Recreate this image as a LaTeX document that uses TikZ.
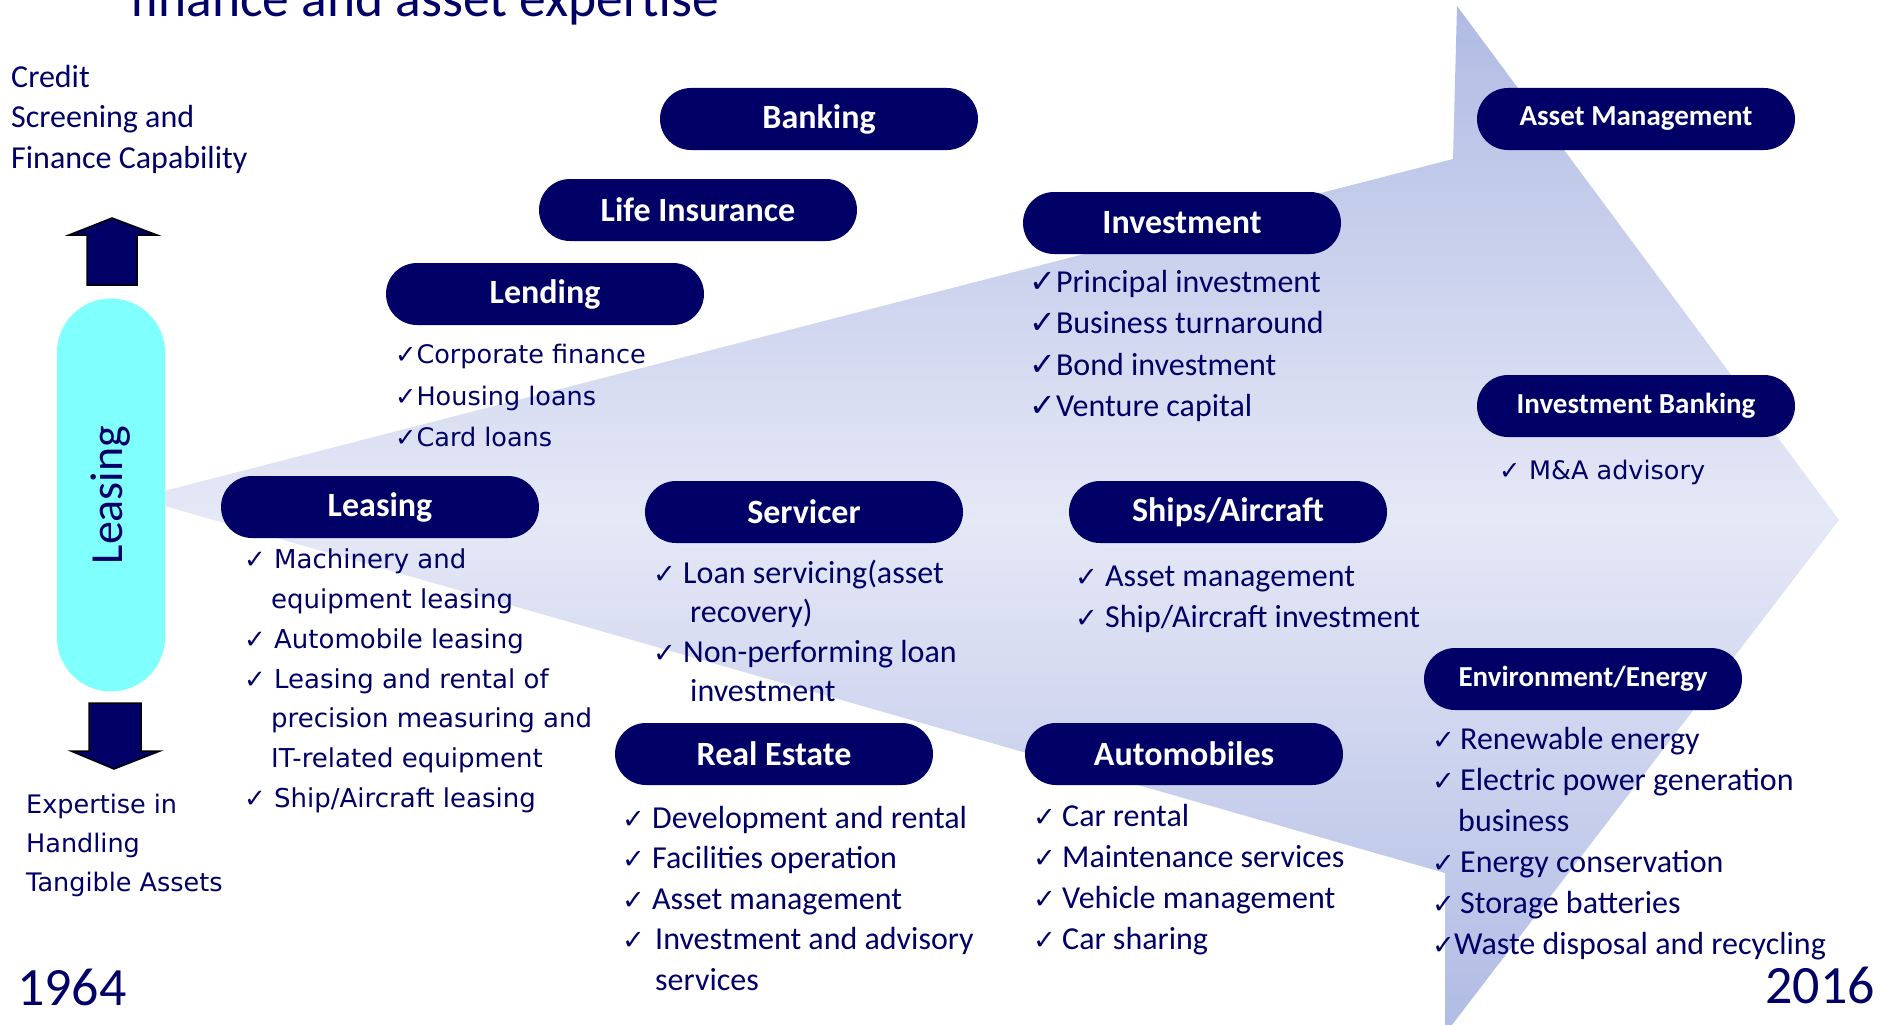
\documentclass[tikz,border=0pt]{standalone}
\usepackage{fontspec}
\setmainfont{Carlito}
\newfontfamily\widefont{DejaVu Sans}
\newfontfamily\tickfont{DejaVu Sans}

\definecolor{navy}{RGB}{0,0,102}
\definecolor{pillcyan}{RGB}{128,255,255}
\definecolor{arrowdark}{RGB}{176,187,228}
\definecolor{arrowlight}{RGB}{229,232,246}

% check marks: with a fixed gap (narrow and wide lists) and one right on the text
\newcommand{\tick}[1]{\scalebox{#1}{\tickfont\bfseries\char"2713}}
\newcommand{\tk}[1][30pt]{\makebox[#1][l]{\tick{0.85}}}
\newcommand{\tkw}[1][30pt]{\makebox[#1][l]{\tick{1}}}
\newcommand{\tkc}{\tick{1}}
\newcommand{\wrapin}[1]{\hspace*{#1}}

\begin{document}
\begin{tikzpicture}[x=1pt, y=-1pt,
    pill/.style={fill=navy, text=white, rounded corners=31pt,
      minimum width=318pt, minimum height=62pt, inner sep=0pt,
      font=\bfseries\fontsize{34}{34}\selectfont},
    smallpill/.style={pill, font=\bfseries\fontsize{29}{29}\selectfont},
    items/.style={anchor=north west, align=left, inner sep=0pt, text=navy,
      font=\fontsize{32}{41}\selectfont},
    wideitems/.style={items, font=\widefont\fontsize{25}{41}\selectfont}]
  \useasboundingbox (0,0) rectangle (1888,1025);
  \clip (0,0) rectangle (1888,1025);

  % big arrow behind everything
  \shade[top color=arrowdark, bottom color=arrowdark, middle color=arrowlight]
    (137,498) -- (1453,159) -- (1457,6) -- (1839,520)
    -- (1445,1034) -- (1445,873) -- cycle;

  % title, cut by the top edge
  \node[anchor=base west, inner sep=0pt, text=navy,
    font=\fontsize{53.5}{53.5}\selectfont] (title) at (130,17)
    {finance and asset expertise};

  % left side
  \node[items, font=\fontsize{32}{40.5}\selectfont] (credit) at (11,65)
    {Credit\\Screening and\\Finance Capability};
  \draw[fill=navy, draw=black, line width=1.5pt]
    (87,285) -- (87,235) -- (69,235) -- (112,218)
    -- (157,235) -- (137,235) -- (137,285) -- cycle;
  \node[rotate=90, fill=pillcyan, rounded corners=54pt, minimum width=393pt,
    minimum height=108pt, inner sep=0pt, text=navy,
    font=\fontsize{46}{46}\selectfont] (leasingbar) at (111,495) {Leasing};
  \draw[fill=navy, draw=black, line width=1.5pt]
    (89,703) -- (141,703) -- (141,751) -- (160,751)
    -- (114,769) -- (71,751) -- (89,751) -- cycle;
  \node[wideitems, font=\widefont\fontsize{25.5}{39}\selectfont] (expertise) at (26,794)
    {Expertise in\\Handling\\Tangible Assets};
  \node[anchor=west, inner sep=0pt, text=navy,
    font=\fontsize{54}{54}\selectfont] (start) at (17,987) {1964};
  \node[anchor=east, inner sep=0pt, text=navy,
    font=\fontsize{54}{54}\selectfont] (finish) at (1875,985) {2016};

  % business pills
  \node[pill] (banking) at (819,119) {Banking};
  \node[pill] (lifeins) at (698,210) {Life Insurance};
  \node[pill] (lending) at (545,294) {Lending};
  \node[pill] (investment) at (1182,223) {Investment};
  \node[smallpill] (assetmgmt) at (1636,119) {Asset Management};
  \node[smallpill] (invbanking) at (1636,406) {Investment Banking};
  \node[pill] (leasing) at (380,507) {Leasing};
  \node[pill] (servicer) at (804,512) {Servicer};
  \node[pill] (ships) at (1228,512) {Ships/Aircraft};
  \node[smallpill] (enviro) at (1583,679) {Environment/Energy};
  \node[pill] (realestate) at (774,754) {Real Estate};
  \node[pill] (autos) at (1184,754) {Automobiles};

  % what each one does
  \node[wideitems, font=\widefont\fontsize{25.5}{41.5}\selectfont] (lendinglist) at (395,344)
    {\tkc Corporate finance\\ \tkc Housing loans\\ \tkc Card loans};
  \node[items, font=\fontsize{32}{41.3}\selectfont] (investmentlist) at (1029,270)
    {\tkc Principal investment\\ \tkc Business turnaround\\
     \tkc Bond investment\\ \tkc Venture capital};
  \node[wideitems, font=\widefont\fontsize{25.5}{25.5}\selectfont] (invbankinglist) at (1499,460)
    {\tkw M\&A advisory};
  \node[wideitems, font=\widefont\fontsize{26}{39.7}\selectfont] (leasinglist) at (244,549)
    {\tkw Machinery and\\ \wrapin{27pt}equipment leasing\\ \tkw Automobile leasing\\
     \tkw Leasing and rental of\\ \wrapin{27pt}precision measuring and\\
     \wrapin{27pt}IT-related equipment\\ \tkw Ship/Aircraft leasing};
  \node[items, font=\fontsize{32}{39.3}\selectfont] (servicerlist) at (653,560)
    {\tk Loan servicing(asset\\ \wrapin{37pt}recovery)\\
     \tk Non-performing loan\\ \wrapin{37pt}investment};
  \node[items] (shipslist) at (1075,566)
    {\tk Asset management\\ \tk Ship/Aircraft investment};
  \node[items, font=\fontsize{32}{40.5}\selectfont] (realestatelist) at (622,806)
    {\tk[30pt]Development and rental\\ \tk[30pt]Facilities operation\\
     \tk[30pt]Asset management\\ \tk[33pt]Investment and advisory\\
     \wrapin{33pt}services};
  \node[items] (autoslist) at (1033,804)
    {\tk[29pt]Car rental\\ \tk[29pt]Maintenance services\\
     \tk[29pt]Vehicle management\\ \tk[29pt]Car sharing};
  \node[items] (envirolist) at (1432,727)
    {\tk[28pt]Renewable energy\\ \tk[28pt]Electric power generation\\
     \wrapin{26pt}business\\ \tk[28pt]Energy conservation\\
     \tk[28pt]Storage batteries\\ \tk[22pt]Waste disposal and recycling};
\end{tikzpicture}
\end{document}
